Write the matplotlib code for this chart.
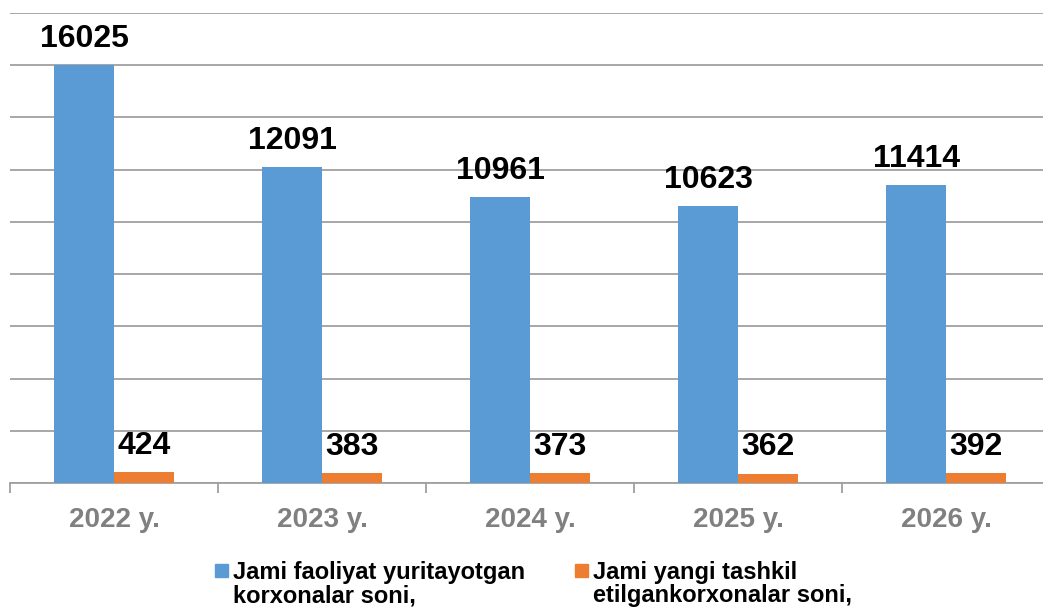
import matplotlib.pyplot as plt
import numpy as np
from matplotlib.patches import Rectangle

plt.rcParams['font.family'] = ['Liberation Sans', 'DejaVu Sans']

years = ["2022 y.", "2023 y.", "2024 y.", "2025 y.", "2026 y."]
active = [16025, 12091, 10961, 10623, 11414]
new = [424, 383, 373, 362, 392]
labels = ["Jami faoliyat yuritayotgan\nkorxonalar soni,",
          "Jami yangi tashkil\netilgankorxonalar soni,"]

blue = "#5B9BD5"
orange = "#ED7D31"
grid_c = "#A0A0A0"

W, H = 1043, 609
fig = plt.figure(figsize=(W / 100, H / 100), dpi=100)

# axes spans slightly past the right edge, like the original
ax = fig.add_axes([10 / W, (H - 483) / H, 1040 / W, 470 / H])

x = np.arange(len(years))
bw = 0.288
b1 = ax.bar(x - bw / 2, active, bw, color=blue, zorder=3)
b2 = ax.bar(x + bw / 2, new, bw, color=orange, zorder=3)

for bars, vals in ((b1, active), (b2, new)):
    for r, v in zip(bars, vals):
        ax.annotate(str(v), (r.get_x() + r.get_width() / 2, r.get_height()),
                    xytext=(0, 13), textcoords="offset points",
                    ha="center", va="baseline", fontsize=23,
                    fontweight="bold", color="black", zorder=4)

ax.set_xlim(-0.5, len(years) - 0.5)
ax.set_ylim(0, 18000)
ax.set_yticks(np.arange(0, 18001, 2000))
ax.yaxis.grid(True, color=grid_c, linewidth=1.3, zorder=0)
ax.tick_params(axis="y", left=False, labelleft=False)

ax.set_xticks(np.arange(-0.5, len(years), 1), minor=True)
ax.set_xticks(x)
ax.set_xticklabels(years, fontsize=20, fontweight="bold", color="#808080")
ax.tick_params(axis="x", which="major", length=0, pad=17)
ax.tick_params(axis="x", which="minor", length=7, width=1.3, color=grid_c)

for s in ("left", "right", "top"):
    ax.spines[s].set_visible(False)
ax.spines["bottom"].set_color(grid_c)
ax.spines["bottom"].set_linewidth(1.3)

# legend, drawn by hand to keep the square at the first line
leg = [(215, blue, labels[0]), (575, orange, labels[1])]
for px, col, txt in leg:
    fig.patches.append(Rectangle((px / W, (H - 577) / H), 13 / W, 13 / H,
                                 transform=fig.transFigure, color=col))
    for i, line in enumerate(txt.split("\n")):
        fig.text((px + 18) / W, (H - 579 - 23 * i) / H, line, fontsize=17,
                 fontweight="bold", color="black", va="baseline", ha="left")

fig.savefig("out.png", dpi=100)
